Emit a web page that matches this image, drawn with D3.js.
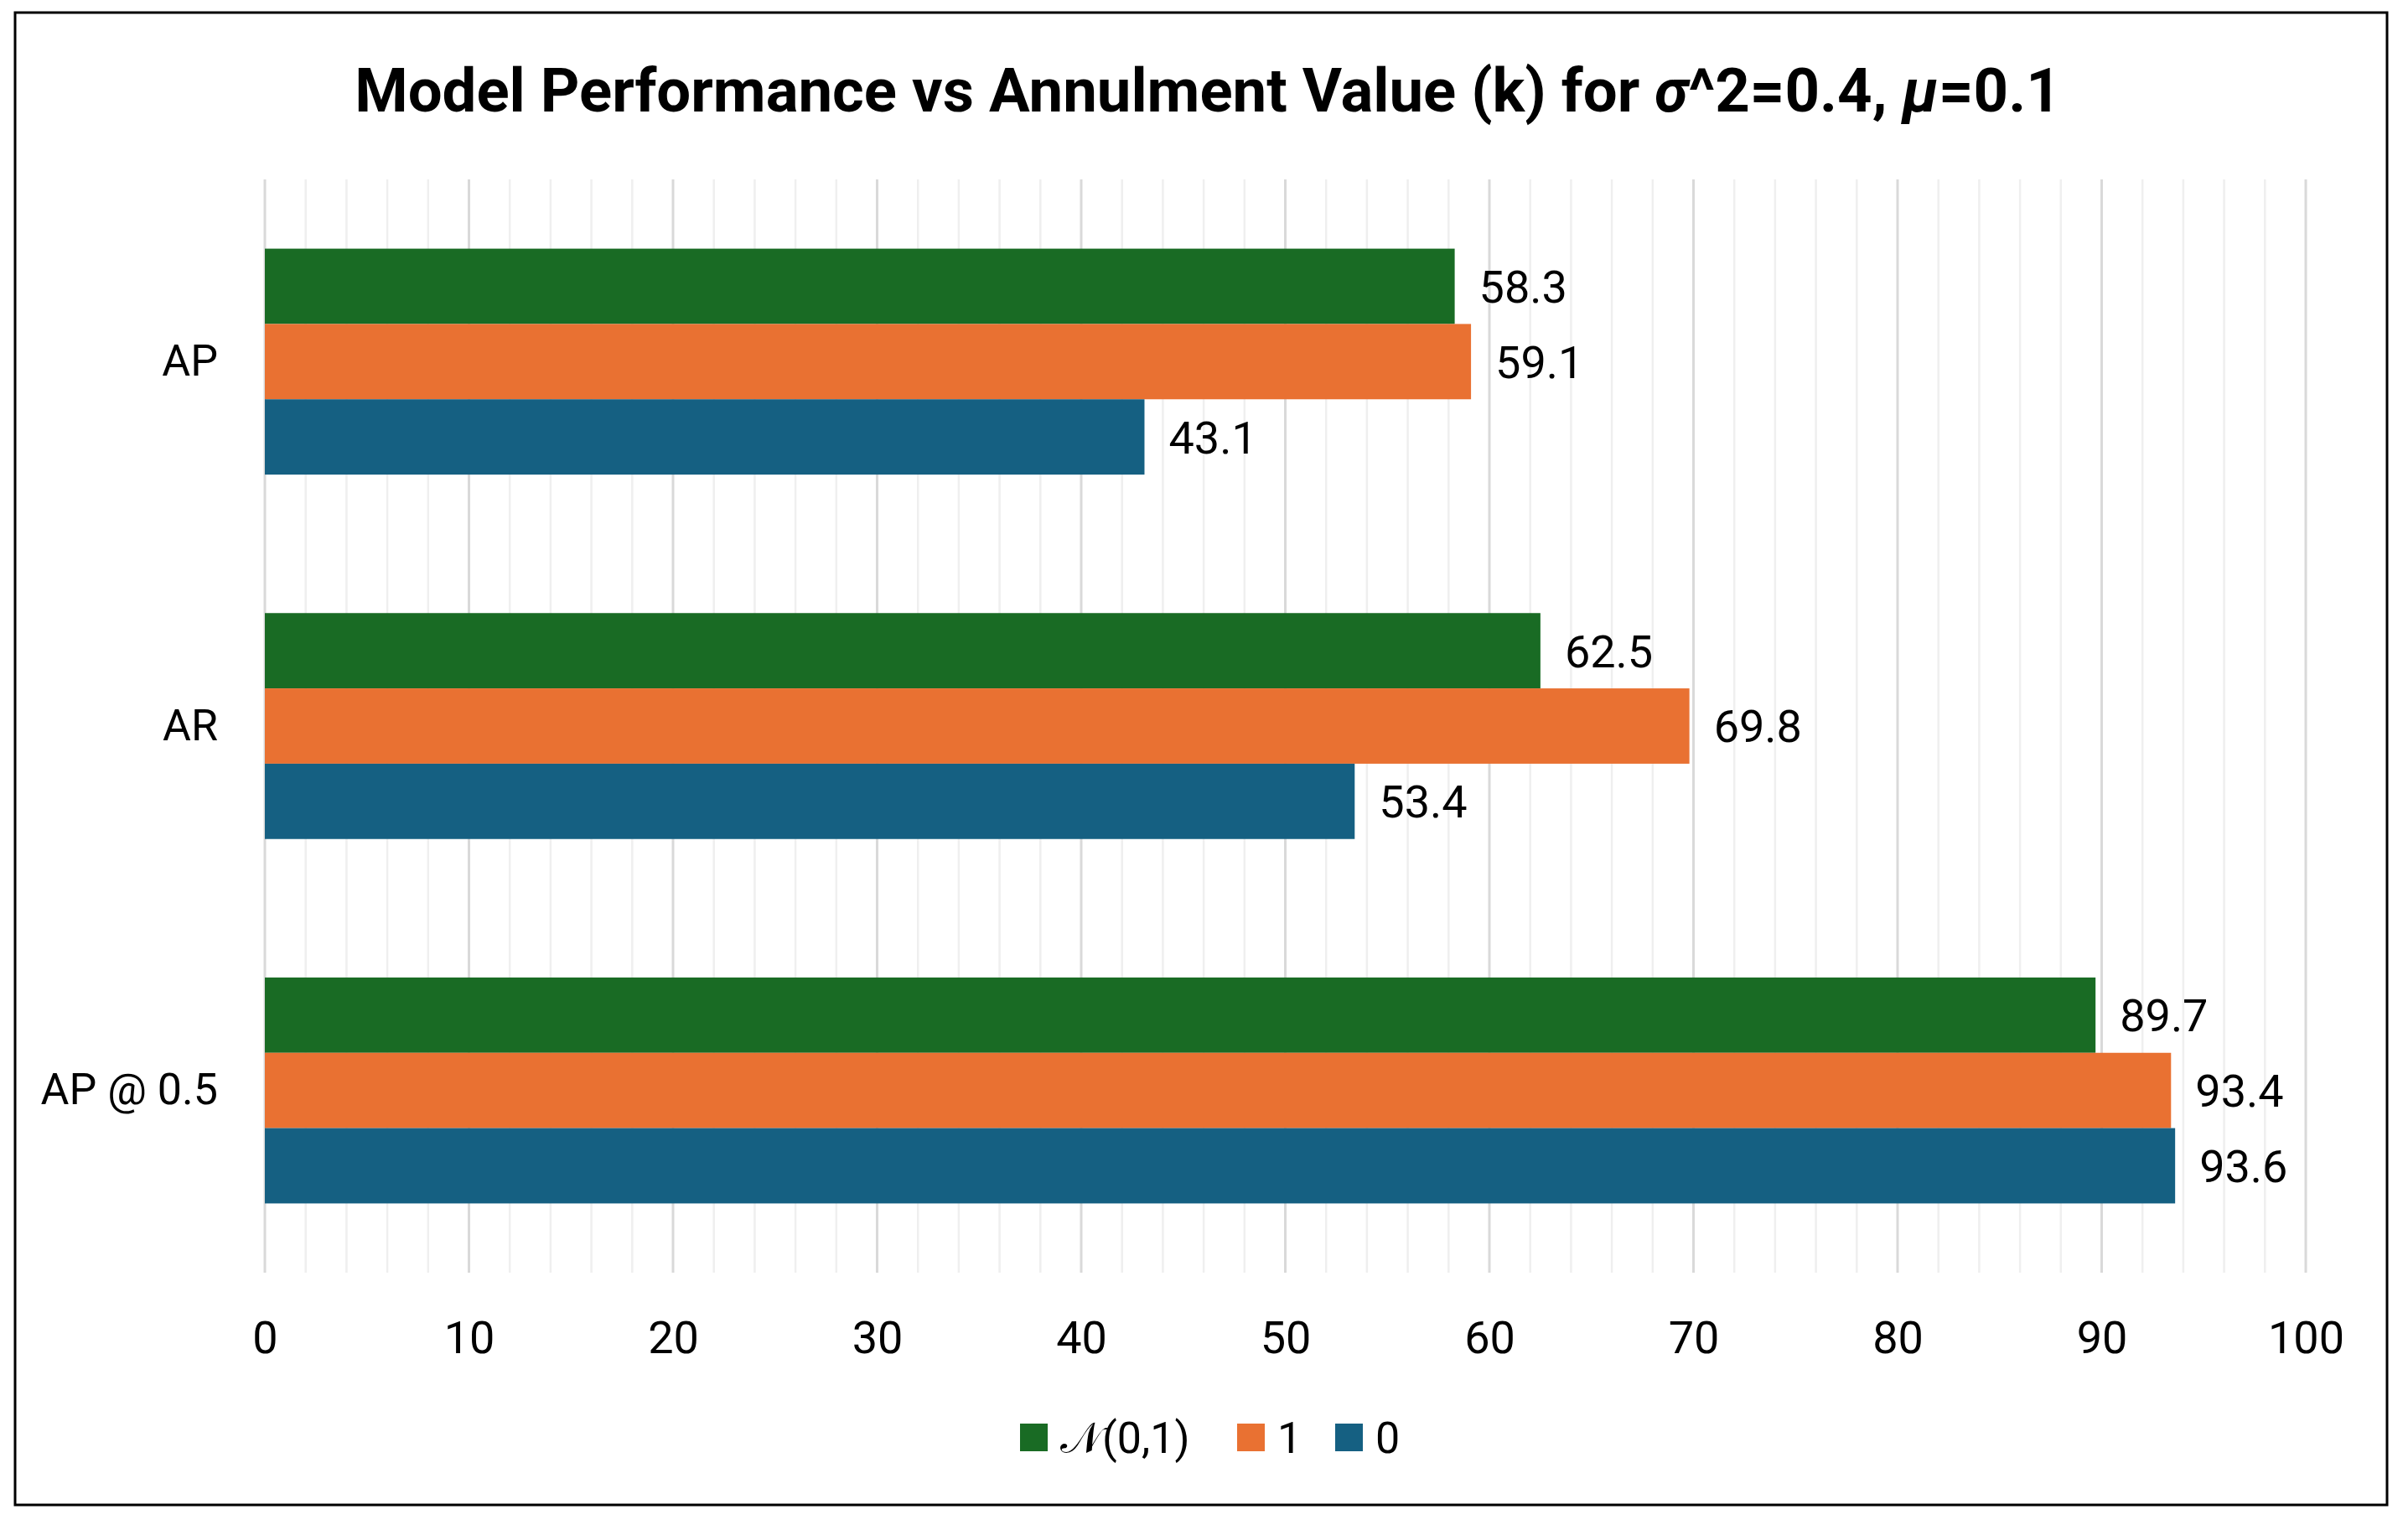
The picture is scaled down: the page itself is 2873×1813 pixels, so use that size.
<!DOCTYPE html>
<html>
<head>
<meta charset="utf-8">
<script src="https://cdn.jsdelivr.net/npm/d3@7"></script>
<style>
  body { margin: 0; background: #fff; }
  text { font-family: "Roboto", "Liberation Sans", sans-serif; }
</style>
</head>
<body>
<div id="chart"></div>
<script>
// data
const categories = ["AP", "AR", "AP @ 0.5"];
const seriesNames = ["\u{1D4A9}(0,1)", "1", "0"];
const seriesColors = ["#196B24", "#E97132", "#156082"];
const valsNormal = [58.3, 62.5, 89.7];
const valsOne = [59.1, 69.8, 93.4];
const valsZero = [43.1, 53.4, 93.6];
const xTicks = [0, 10, 20, 30, 40, 50, 60, 70, 80, 90, 100];

const series = [valsNormal, valsOne, valsZero];

const W = 2873, H = 1813;
const margin = {top: 214, right: 122, bottom: 295, left: 316};
const width = W - margin.left - margin.right;
const height = H - margin.top - margin.bottom;

const svg = d3.select("#chart")
  .append("svg")
  .attr("width", W)
  .attr("height", H);

// outer frame
svg.append("rect")
  .attr("x", 18).attr("y", 15)
  .attr("width", 2830).attr("height", 1780)
  .attr("fill", "#fff")
  .attr("stroke", "#000")
  .attr("stroke-width", 3);

// title
const title = svg.append("text")
  .attr("x", 1441)
  .attr("y", 133)
  .attr("text-anchor", "middle")
  .attr("font-size", 72.5)
  .attr("font-weight", "bold");
title.append("tspan").text("Model Performance vs Annulment Value (k) for ");
title.append("tspan").attr("font-style", "italic").text("\u03C3");
title.append("tspan").text("^2=0.4, ");
title.append("tspan").attr("font-style", "italic").text("\u03BC");
title.append("tspan").text("=0.1");

const g = svg.append("g")
  .attr("transform", `translate(${margin.left}, ${margin.top})`);

const xScale = d3.scaleLinear()
  .domain([0, 100])
  .range([0, width]);

const yScale = d3.scaleBand()
  .domain(categories)
  .range([0, height])
  .paddingInner(0.38)
  .paddingOuter(0.19);

const ySub = d3.scaleBand()
  .domain(d3.range(series.length))
  .range([0, yScale.bandwidth()]);

// gridlines: minor every 2, major every 10
const minor = d3.range(0, 101, 2).filter(d => d % 10 != 0);
g.selectAll(".minor")
  .data(minor)
  .enter()
  .append("line")
  .attr("x1", d => xScale(d)).attr("x2", d => xScale(d))
  .attr("y1", 0).attr("y2", height)
  .attr("stroke", "#efefef")
  .attr("stroke-width", 2.5);

g.selectAll(".major")
  .data(xTicks)
  .enter()
  .append("line")
  .attr("x1", d => xScale(d)).attr("x2", d => xScale(d))
  .attr("y1", 0).attr("y2", height)
  .attr("stroke", "#d9d9d9")
  .attr("stroke-width", 3);

// x axis labels
const xAxis = d3.axisBottom(xScale)
  .tickValues(xTicks)
  .tickSize(0)
  .tickPadding(58);

g.append("g")
  .attr("class", "x-axis")
  .attr("transform", `translate(0, ${height})`)
  .call(xAxis)
  .call(s => s.select(".domain").remove())
  .selectAll("text")
  .attr("font-family", "Roboto, 'Liberation Sans', sans-serif")
  .attr("font-size", 54)
  .attr("fill", "#000");

// y axis labels
const yAxis = d3.axisLeft(yScale)
  .tickSize(0)
  .tickPadding(56);

g.append("g")
  .attr("class", "y-axis")
  .call(yAxis)
  .call(s => s.select(".domain").remove())
  .selectAll("text")
  .attr("font-family", "Roboto, 'Liberation Sans', sans-serif")
  .attr("font-size", 52)
  .attr("fill", "#000");

// bars
series.forEach((vals, si) => {
  const rows = categories.map((c, i) => ({cat: c, v: vals[i]}));

  g.selectAll(".bar" + si)
    .data(rows)
    .enter()
    .append("rect")
    .attr("x", 0)
    .attr("y", d => yScale(d.cat) + ySub(si))
    .attr("width", d => xScale(d.v))
    .attr("height", ySub.bandwidth())
    .attr("fill", seriesColors[si]);

  g.selectAll(".lbl" + si)
    .data(rows)
    .enter()
    .append("text")
    .attr("x", d => xScale(d.v) + 29)
    .attr("y", d => yScale(d.cat) + ySub(si) + ySub.bandwidth() / 2)
    .attr("dy", "0.36em")
    .attr("font-size", 54)
    .text(d => d.v.toFixed(1));
});

// legend
const legendX = [1217, 1476, 1593];
const leg = svg.append("g");
seriesNames.forEach((name, i) => {
  leg.append("rect")
    .attr("x", legendX[i]).attr("y", 1698)
    .attr("width", 33).attr("height", 33)
    .attr("fill", seriesColors[i]);
  leg.append("text")
    .attr("x", legendX[i] + 48)
    .attr("y", 1714)
    .attr("dy", "0.36em")
    .attr("font-size", 52)
    .text(name);
});
</script>
</body>
</html>
